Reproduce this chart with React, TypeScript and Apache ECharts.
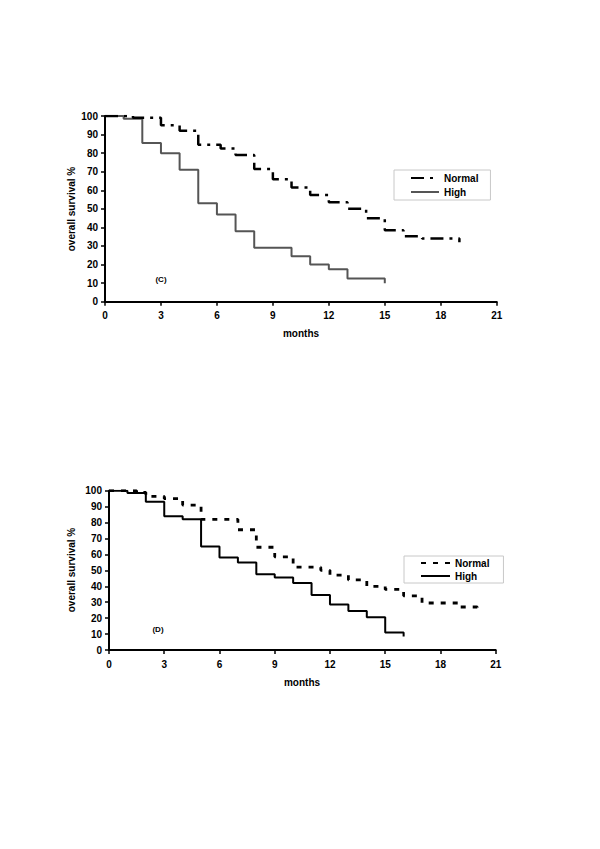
import React, { useEffect, useRef } from "react";
import * as echarts from "echarts";

// Panel (C)
const normalC: [number, number][] = [
  [0, 100], [1.5, 99], [3, 95], [4, 92], [5, 84.5], [6.2, 82.5], [7, 79], [8, 71.5],
  [9, 66], [10, 61.5], [11, 57.5], [12, 53.5], [13, 50], [14, 45], [15, 38.5],
  [16, 35.3], [17, 34], [19, 32],
];
const highC: [number, number][] = [
  [0, 100], [1, 98.5], [2, 85.5], [3, 80], [4, 71], [5, 53], [6, 47], [7, 38],
  [8, 29], [10, 24.5], [11, 20], [12, 17.5], [13, 12.5], [15, 10],
];

// Panel (D)
const normalD: [number, number][] = [
  [0, 100], [1.5, 99], [2, 96.5], [3, 95], [4, 91], [5, 82], [7, 75.5], [8, 64.5],
  [9, 58.5], [10, 52], [11.5, 50], [12, 47], [13, 44], [14, 40], [15, 38],
  [16, 34], [17, 29.5], [19, 27], [20, 22.5],
];
const highD: [number, number][] = [
  [0, 100], [1, 98.5], [2, 93], [3, 84], [4, 82], [5, 65], [6, 58], [7, 55],
  [8, 47.5], [9, 45.5], [10, 42], [11, 34.5], [12, 28.5], [13, 24.5], [14, 20.5],
  [15, 11], [16, 8.5],
];

const xTitle = "months";
const yTitle = "overall survival %";
const panelLabels = ["(C)", "(D)"];

const FONT = "'Liberation Sans', Arial, sans-serif";

export default function App() {
  const ref = useRef<HTMLDivElement>(null);
  useEffect(() => {
    if (!ref.current) return;
    const chart = echarts.init(ref.current, undefined, { renderer: "svg" });
    const grids = [
      { left: 105, top: 116, width: 391.7, height: 185.7 },
      { left: 109, top: 490.7, width: 386.7, height: 159.3 },
    ];
    const axisCommon = {
      axisLine: { show: true, lineStyle: { color: "#000", width: 2 } },
      axisTick: { show: true, inside: false, length: 4, lineStyle: { color: "#000", width: 1.5 } },
      splitLine: { show: false },
    };
    const labelStyle = { color: "#000", fontWeight: "bold" as const, fontSize: 10, fontFamily: FONT };
    const xAxes = grids.map((_, i) => ({
      type: "value" as const,
      gridIndex: i,
      min: 0,
      max: 21,
      interval: 3,
      ...axisCommon,
      axisLabel: { ...labelStyle, margin: 9 },
    }));
    const yAxes = grids.map((_, i) => ({
      type: "value" as const,
      gridIndex: i,
      min: 0,
      max: 100,
      interval: 10,
      ...axisCommon,
      axisLabel: { ...labelStyle, margin: 7 },
    }));
    const mk = (name: string, data: [number, number][], idx: number, color: string, width: number, dash: number[] | "solid") => ({
      name,
      type: "line" as const,
      xAxisIndex: idx,
      yAxisIndex: idx,
      data,
      step: "end" as const,
      symbol: "none",
      showSymbol: false,
      lineStyle: { color, width, type: dash },
      itemStyle: { color },
      z: name.startsWith("Normal") ? 3 : 2,
    });
    const series = [
      mk("Normal (C)", normalC, 0, "#000", 2.5, [13, 6, 3, 6]),
      mk("High (C)", highC, 0, "#555", 2, "solid"),
      mk("Normal (D)", normalD, 1, "#000", 2.8, [5, 7]),
      mk("High (D)", highD, 1, "#000", 2, "solid"),
    ];
    const legendCommon = {
      orient: "vertical" as const,
      borderColor: "#c8c8c8",
      borderWidth: 1,
      itemHeight: 10,
      itemStyle: { opacity: 0 },
      textStyle: { ...labelStyle },
      formatter: (n: string) => n.split(" ")[0],
      selectedMode: false,
    };
    const legends = [
      { ...legendCommon, data: ["Normal (C)", "High (C)"], left: 394, top: 170, padding: [3, 12, 3, 16], itemGap: 4, itemWidth: 28 },
      { ...legendCommon, data: ["Normal (D)", "High (D)"], left: 404, top: 556, padding: [2, 14, 2, 16], itemGap: 3, itemWidth: 29 },
    ];
    const txt = (x: number, y: number, text: string, size: number, rotation = 0) => ({
      type: "text" as const,
      x,
      y,
      rotation,
      style: {
        text,
        fill: "#000",
        font: `bold ${size}px ${FONT}`,
        textAlign: "center",
        textVerticalAlign: "middle",
      },
    });
    const graphic = [
      txt(301, 333, xTitle, 10),
      txt(302, 682, xTitle, 10),
      txt(71, 209, yTitle, 10, Math.PI / 2),
      txt(71, 570, yTitle, 10, Math.PI / 2),
      txt(161, 279, panelLabels[0], 8),
      txt(158, 629, panelLabels[1], 8),
    ];
    chart.setOption({
      animation: false,
      backgroundColor: "#fff",
      grid: grids,
      xAxis: xAxes,
      yAxis: yAxes,
      series,
      legend: legends,
      graphic,
    });
    return () => chart.dispose();
  }, []);
  return (
    <div
      ref={ref}
      style={{ position: "absolute", left: 0, top: 0, width: 600, height: 849 }}
    />
  );
}
